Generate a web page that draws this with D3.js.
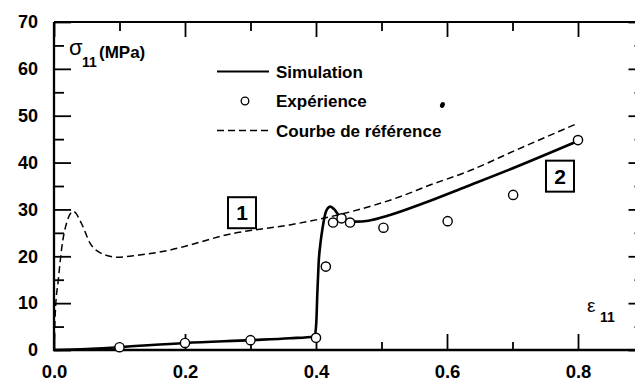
<!DOCTYPE html>
<html>
<head>
<meta charset="utf-8">
<script src="https://cdn.jsdelivr.net/npm/d3@7/dist/d3.min.js"></script>
<style>
  html, body { margin: 0; padding: 0; background: #fff; }
  svg { display: block; }
  text { font-family: "Liberation Sans", Arial, sans-serif; font-weight: bold; fill: #000; }
</style>
</head>
<body>
<svg id="chart" width="635" height="383"></svg>
<script>
// ---- data ----
const xMajorTicks = [0, 0.2, 0.4, 0.6, 0.8];
const xTickLabels = ["0.0", "0.2", "0.4", "0.6", "0.8"];
const xMinorTicks = [0.1, 0.3, 0.5, 0.7];
const yMajorTicks = [0, 10, 20, 30, 40, 50, 60, 70];
const yMinorTicks = [5, 15, 25, 35, 45, 55, 65];

const simX = [0, 0.05, 0.1, 0.2, 0.3, 0.36, 0.398, 0.4005, 0.402, 0.404, 0.407, 0.410, 0.414, 0.418, 0.422, 0.428, 0.435, 0.443, 0.46, 0.48, 0.513, 0.564, 0.63, 0.706, 0.8];
const simY = [0, 0.2, 0.6, 1.5, 2.1, 2.5, 2.9, 6, 12, 18.5, 23, 26, 29, 30.3, 30.6, 30.0, 28.7, 27.7, 27.4, 27.6, 28.8, 31.3, 34.9, 39.1, 44.6];

const expX = [0.1, 0.2, 0.3, 0.4, 0.415, 0.426, 0.439, 0.452, 0.503, 0.601, 0.701, 0.8];
const expY = [0.6, 1.5, 2.1, 2.6, 17.8, 27.2, 28.1, 27.2, 26.1, 27.5, 33.1, 44.8];

const refX = [0, 0.002, 0.0066, 0.012, 0.019, 0.0295, 0.042, 0.055, 0.070, 0.096, 0.121, 0.172, 0.274, 0.36, 0.411, 0.528, 0.574, 0.63, 0.706, 0.8];
const refY = [0, 8, 15, 22, 27, 29.6, 27, 22.8, 20.8, 19.8, 20.1, 21.2, 24.9, 26.7, 28.1, 32.7, 35.2, 38.0, 42.7, 48.4];

const boxLabels = ["1", "2"];
const boxX = [0.287, 0.7725];
const boxY = [29.3, 37.1];

const artefactX = [0.593];
const artefactY = [52.3];

const legendLabels = ["Simulation", "Expérience", "Courbe de référence"];

// ---- layout ----
const svg = d3.select("#chart");
const mLeft = 54, mRight = 643.5, mTop = 22, mBottom = 350;
const x = d3.scaleLinear().domain([0, 0.9]).range([mLeft, mRight]);
const y = d3.scaleLinear().domain([0, 70]).range([mBottom, mTop]);

const zip = (a, b) => a.map((v, i) => [v, b[i]]);

function styleAxis(g) {
  g.select(".domain").remove();
  g.selectAll(".tick line").attr("stroke", "#000").attr("stroke-width", 1.8);
}
function styleLabels(size) {
  return g => g.selectAll("text").style("font-size", size).attr("fill", "#000")
    .style("font-family", "'Liberation Sans', Arial, sans-serif").style("font-weight", "bold");
}

// bottom
svg.append("g").attr("transform", `translate(0,${mBottom})`)
  .call(d3.axisBottom(x).tickValues(xMajorTicks).tickSize(-16).tickPadding(15.3)
    .tickFormat((d, i) => xTickLabels[i]))
  .call(styleAxis).call(styleLabels("18.5px"));
svg.append("g").attr("transform", `translate(0,${mBottom})`)
  .call(d3.axisBottom(x).tickValues(xMinorTicks).tickSize(-8).tickFormat(""))
  .call(styleAxis);

// top
svg.append("g").attr("transform", `translate(0,${mTop})`)
  .call(d3.axisTop(x).tickValues(xMajorTicks).tickSize(-15).tickFormat(""))
  .call(styleAxis);
svg.append("g").attr("transform", `translate(0,${mTop})`)
  .call(d3.axisTop(x).tickValues(xMinorTicks).tickSize(-9).tickFormat(""))
  .call(styleAxis);

// left
svg.append("g").attr("transform", `translate(${mLeft},0)`)
  .call(d3.axisLeft(y).tickValues(yMajorTicks).tickSize(-17).tickPadding(16).tickFormat(d3.format("d")))
  .call(styleAxis).call(styleLabels("18px"));
svg.append("g").attr("transform", `translate(${mLeft},0)`)
  .call(d3.axisLeft(y).tickValues(yMinorTicks).tickSize(-10).tickFormat(""))
  .call(styleAxis);

// right
svg.append("g").attr("transform", `translate(${mRight},0)`)
  .call(d3.axisRight(y).tickValues(yMajorTicks).tickSize(-15).tickFormat(""))
  .call(styleAxis);
svg.append("g").attr("transform", `translate(${mRight},0)`)
  .call(d3.axisRight(y).tickValues(yMinorTicks).tickSize(-9).tickFormat(""))
  .call(styleAxis);

// frame
svg.append("line").attr("x1", mLeft).attr("x2", mLeft).attr("y1", mTop).attr("y2", mBottom + 1)
  .attr("stroke", "#000").attr("stroke-width", 2.3);
svg.append("line").attr("x1", mLeft - 1).attr("x2", 640).attr("y1", mBottom).attr("y2", mBottom)
  .attr("stroke", "#000").attr("stroke-width", 2.6);
svg.append("line").attr("x1", mLeft).attr("x2", 640).attr("y1", mTop).attr("y2", mTop)
  .attr("stroke", "#000").attr("stroke-width", 2);

// curves
const line = d3.line().x(d => x(d[0])).y(d => y(d[1])).curve(d3.curveMonotoneX);

svg.append("path").datum(zip(refX, refY)).attr("d", line)
  .attr("fill", "none").attr("stroke", "#000").attr("stroke-width", 1.5)
  .attr("stroke-dasharray", "7,4");

svg.append("path").datum(zip(simX, simY)).attr("d", line)
  .attr("fill", "none").attr("stroke", "#000").attr("stroke-width", 2.6);

svg.append("g").selectAll("circle").data(zip(expX, expY)).join("circle")
  .attr("cx", d => x(d[0])).attr("cy", d => y(d[1])).attr("r", 4.6)
  .attr("fill", "#fff").attr("stroke", "#000").attr("stroke-width", 1.4);

// artefact dot
svg.append("g").selectAll("ellipse").data(zip(artefactX, artefactY)).join("ellipse")
  .attr("cx", d => x(d[0])).attr("cy", d => y(d[1])).attr("rx", 2.3).attr("ry", 3)
  .attr("transform", d => `rotate(25,${x(d[0])},${y(d[1])})`).attr("fill", "#000");

// boxed labels
const boxes = svg.append("g").selectAll("g").data(boxLabels).join("g")
  .attr("transform", (d, i) => `translate(${x(boxX[i])},${y(boxY[i])})`);
boxes.append("rect").attr("x", -14).attr("y", -15.5).attr("width", 28).attr("height", 31)
  .attr("fill", "#fff").attr("stroke", "#000").attr("stroke-width", 2);
boxes.append("text").attr("text-anchor", "middle").attr("y", 7.5)
  .style("font-size", "21px").text(d => d);

// axis titles
svg.append("text").attr("x", 69).attr("y", 55).style("font-size", "22px").style("font-weight", "normal").text("σ");
svg.append("text").attr("x", 82).attr("y", 67).style("font-size", "14px").text("11");
svg.append("text").attr("x", 99).attr("y", 58).style("font-size", "17px").text("(MPa)");

svg.append("text").attr("x", 587).attr("y", 312).style("font-size", "19px").style("font-weight", "normal").text("ε");
svg.append("text").attr("x", 600).attr("y", 322).style("font-size", "14px").text("11");

// legend
const lg = svg.append("g");
const rowY = [71.5, 101, 130.5];
lg.append("line").attr("x1", 217).attr("x2", 269).attr("y1", rowY[0]).attr("y2", rowY[0])
  .attr("stroke", "#000").attr("stroke-width", 2);
lg.append("circle").attr("cx", 245).attr("cy", rowY[1]).attr("r", 3.8)
  .attr("fill", "#fff").attr("stroke", "#000").attr("stroke-width", 1.3);
lg.append("line").attr("x1", 217).attr("x2", 269).attr("y1", rowY[2]).attr("y2", rowY[2])
  .attr("stroke", "#000").attr("stroke-width", 1.4).attr("stroke-dasharray", "7,4");
lg.selectAll("text").data(legendLabels).join("text")
  .attr("x", 276).attr("y", (d, i) => rowY[i] + 6)
  .style("font-size", "17px").text(d => d);
</script>
</body>
</html>
